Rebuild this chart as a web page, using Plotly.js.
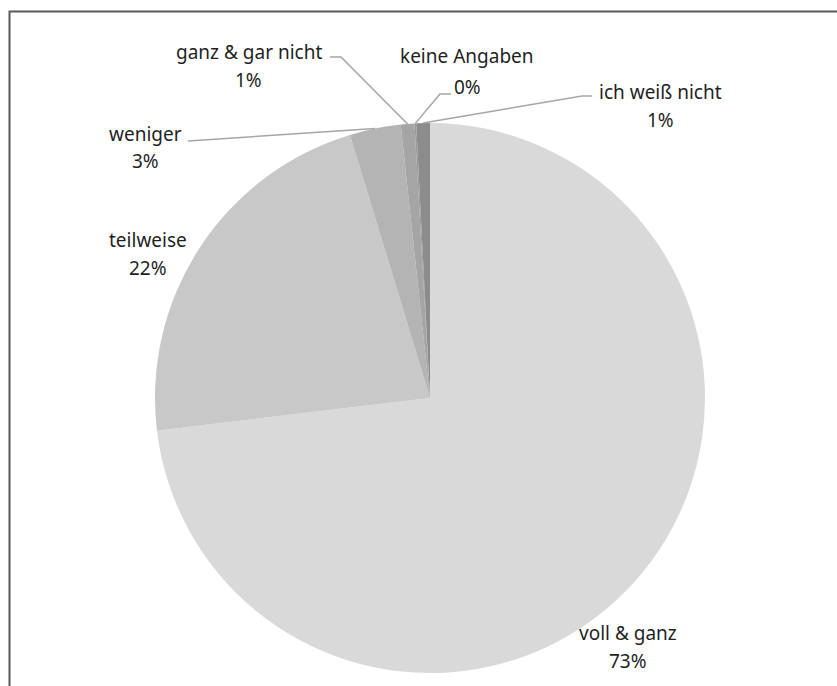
<!DOCTYPE html>
<html>
<head>
<meta charset="utf-8">
<script src="https://cdn.plot.ly/plotly-3.0.1.min.js"></script>
<style>html,body{margin:0;padding:0;background:#fff;}#chart{width:837px;height:686px;}</style>
</head>
<body>
<div id="chart"></div>
<script>
// Data
const categories = ['voll & ganz', 'teilweise', 'weniger', 'ganz & gar nicht', 'keine Angaben', 'ich weiß nicht'];
const shares = [73.1, 22.2, 3.0, 0.8, 0.1, 0.8];
const sliceColors = ['#d9d9d9', '#c8c8c8', '#b4b4b4', '#a5a5a5', '#999999', '#8c8c8c'];

// Layout helpers (pixels)
const W = 837, H = 686;
const cxPx = 430, cyPx = 398, rPx = 275;
const domX = [(cxPx - rPx) / W, (cxPx + rPx) / W];
const domY = [1 - (cyPx + rPx) / H, 1 - (cyPx - rPx) / H];

// label block positions: [x centre, y of first line, y of second line]
const labelPos = [
  [628, 633, 661],
  [148, 240, 268],
  [145, 134, 161],
  [249, 52, 80],
  [467, 56, 87],
  [660, 92, 120]
];
// leader line start + elbow points (pixel), null = no leader
const leaderPts = [
  null,
  null,
  [[188, 141]],
  [[330, 57], [341, 57]],
  [[451, 94], [440, 94]],
  [[592, 96], [582, 96]]
];

const px2x = x => x / W;
const px2y = y => 1 - y / H;

const total = shares.reduce((a, b) => a + b, 0);
let cum = 0;
const annotations = [];
const shapes = [];
const textFont = {family: 'Noto Sans, sans-serif', size: 19, color: '#1f1f1f'};

categories.forEach((name, i) => {
  const frac = shares[i] / total;
  const mid = (cum + frac / 2) * 2 * Math.PI;
  cum += frac;
  const ex = cxPx + rPx * Math.sin(mid);
  const ey = cyPx - rPx * Math.cos(mid);
  const lp = labelPos[i];
  annotations.push({xref: 'paper', yref: 'paper', x: px2x(lp[0]), y: px2y(lp[1]), text: name,
    showarrow: false, xanchor: 'center', yanchor: 'middle', font: textFont});
  annotations.push({xref: 'paper', yref: 'paper', x: px2x(lp[0]), y: px2y(lp[2]), text: Math.round(frac * 100) + '%',
    showarrow: false, xanchor: 'center', yanchor: 'middle', font: textFont});
  if (leaderPts[i]) {
    const pts = leaderPts[i].concat([[ex, ey]]);
    const path = pts.map((p, k) => (k === 0 ? 'M' : 'L') + ' ' + px2x(p[0]).toFixed(5) + ',' + px2y(p[1]).toFixed(5)).join(' ');
    shapes.push({type: 'path', xref: 'paper', yref: 'paper', path: path, line: {color: '#a6a6a6', width: 1.5}});
  }
});

// outer frame
shapes.push({type: 'rect', xref: 'paper', yref: 'paper', x0: px2x(9.5), x1: 1.02, y0: -0.02, y1: px2y(11.5),
  line: {color: '#595959', width: 2}, fillcolor: 'rgba(0,0,0,0)'});

const trace = {
  type: 'pie',
  labels: categories,
  values: shares,
  sort: false,
  direction: 'clockwise',
  rotation: 0,
  textinfo: 'none',
  hoverinfo: 'none',
  marker: {colors: sliceColors, line: {width: 0}},
  domain: {x: domX, y: domY}
};

Plotly.newPlot('chart', [trace], {
  width: W, height: H,
  margin: {l: 0, r: 0, t: 0, b: 0},
  showlegend: false,
  paper_bgcolor: '#ffffff',
  annotations: annotations,
  shapes: shapes
}, {displayModeBar: false, staticPlot: true});
</script>
</body>
</html>
